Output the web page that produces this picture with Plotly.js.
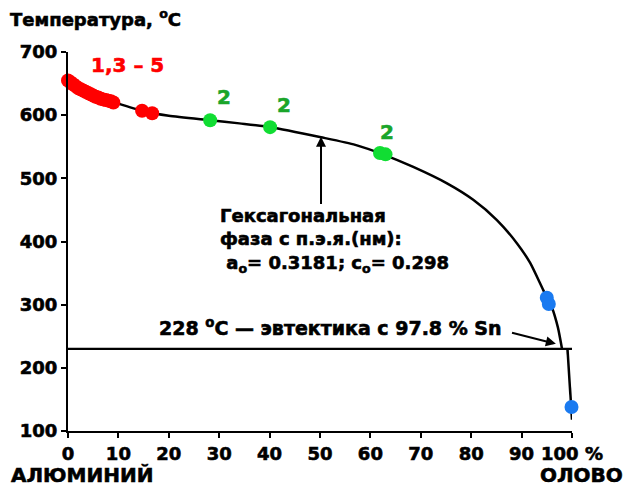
<!DOCTYPE html>
<html>
<head>
<meta charset="utf-8">
<script src="https://cdn.plot.ly/plotly-3.0.1.min.js"></script>
<style>html,body{margin:0;padding:0;background:#fff;}#chart{width:628px;height:491px;}</style>
</head>
<body>
<div id="chart"></div>
<script>
// Liquidus curve (Al–Sn), % Sn vs temperature
var curveX = [0, 2, 5, 9.3, 14.7, 20, 28.2, 34, 40.3, 50.2, 57, 62.5, 68.5, 75.2, 80.4, 85.1, 89.1, 91.7, 94.3, 96.0, 97.2, 98.0];
var curveT = [656, 644, 631, 620, 607, 599, 592, 587, 581, 565, 553, 538, 518, 492, 466, 434, 397, 366, 323, 296, 264, 231];
// Sn-rich branch below the eutectic
var tailX = [99.1, 100];
var tailT = [230, 118];

// Eutectic line
var eutX = [0, 100];
var eutT = [230, 230];

// Experimental points
var redX = [0, 0.5, 1, 1.5, 2, 2.5, 3, 3.5, 4, 4.5, 5, 5.5, 6, 6.5, 7, 7.5, 8, 8.5, 9, 14.7, 16.7];
var redT = [655, 652, 649, 646, 643, 641, 639, 637, 635, 633, 631, 629, 628, 626, 625, 624, 623, 622, 620, 607, 603];
var greenX = [28.2, 40.1, 61.9, 63.0];
var greenT = [592, 581, 540, 538];
var blueX = [95.0, 95.4, 99.9];
var blueT = [311, 301, 138];

var xTicks = [0, 10, 20, 30, 40, 50, 60, 70, 80, 90, 100];
var xTickText = ['0', '10', '20', '30', '40', '50', '60', '70', '80', '90', '100 %'];
var yTicks = [100, 200, 300, 400, 500, 600, 700];

var FONT = 'DejaVu Sans, Liberation Sans, Arial, sans-serif';
var bold = function (size, color) { return {family: FONT, size: size, color: color || '#000', weight: 'bold'}; };

var traces = [
  {x: curveX, y: curveT, mode: 'lines', line: {color: '#000', width: 2.5, shape: 'spline', smoothing: 0.6}, hoverinfo: 'skip'},
  {x: tailX, y: tailT, mode: 'lines', line: {color: '#000', width: 2.5}, hoverinfo: 'skip'},
  {x: eutX, y: eutT, mode: 'lines', line: {color: '#000', width: 2.2}, hoverinfo: 'skip'},
  {x: redX, y: redT, mode: 'markers', marker: {color: '#ff0000', size: 14}, cliponaxis: false},
  {x: greenX, y: greenT, mode: 'markers', marker: {color: '#11dd33', size: 14}, cliponaxis: false},
  {x: blueX, y: blueT, mode: 'markers', marker: {color: '#1a7af0', size: 14}, cliponaxis: false}
];

var ann = [
  {xref: 'paper', yref: 'paper', x: -0.12, y: 1.09, xanchor: 'left', yanchor: 'middle', showarrow: false,
   text: 'Температура, <sup>o</sup>C', font: bold(18)},
  {xref: 'x', yref: 'y', x: 11.9, y: 679, showarrow: false, text: '1,3 – 5', font: bold(20, '#ff0000')},
  {xref: 'x', yref: 'y', x: 31, y: 628, showarrow: false, text: '2', font: bold(20, '#1aa52a')},
  {xref: 'x', yref: 'y', x: 42.9, y: 616, showarrow: false, text: '2', font: bold(20, '#1aa52a')},
  {xref: 'x', yref: 'y', x: 63.3, y: 574, showarrow: false, text: '2', font: bold(20, '#1aa52a')},
  {xref: 'x', yref: 'y', x: 106.3, y: 308, showarrow: false, text: '6', font: bold(20, '#1a7af0')},
  {xref: 'x', yref: 'y', x: 104.4, y: 136, showarrow: false, text: '6', font: bold(20, '#1a7af0')},
  {xref: 'x', yref: 'y', x: 29.8, y: 402, xanchor: 'left', yanchor: 'middle', showarrow: false, align: 'left',
   text: 'Гексагональная<br>фаза с п.э.я.(нм):<br> a<sub>o</sub>= 0.3181; c<sub>o</sub>= 0.298', font: bold(18)},
  {xref: 'x', yref: 'y', x: 17.6, y: 264, xanchor: 'left', yanchor: 'middle', showarrow: false,
   text: '228 <sup>o</sup>C — эвтектика с 97.8 % Sn', font: bold(19)},
  {xref: 'x', yref: 'y', x: 50.2, y: 566, ax: 50.2, ay: 457, axref: 'x', ayref: 'y', text: '',
   showarrow: true, arrowhead: 2, arrowsize: 1, arrowwidth: 2, arrowcolor: '#000'},
  {xref: 'x', yref: 'y', x: 96.8, y: 238, ax: 87.8, ay: 256, axref: 'x', ayref: 'y', text: '',
   showarrow: true, arrowhead: 2, arrowsize: 1, arrowwidth: 2, arrowcolor: '#000'},
  {xref: 'paper', yref: 'paper', x: -0.117, y: -0.116, xanchor: 'left', yanchor: 'middle', showarrow: false,
   text: 'АЛЮМИНИЙ', font: bold(20)},
  {xref: 'paper', yref: 'paper', x: 1.105, y: -0.116, xanchor: 'right', yanchor: 'middle', showarrow: false,
   text: 'ОЛОВО', font: bold(20)}
];

var layout = {
  width: 628, height: 491,
  margin: {l: 68, r: 56, t: 52, b: 60},
  paper_bgcolor: '#fff', plot_bgcolor: '#fff',
  showlegend: false,
  xaxis: {range: [0, 100], tickvals: xTicks, ticktext: xTickText, showgrid: false, zeroline: false,
          showline: true, linecolor: '#000', linewidth: 2, ticks: 'outside', ticklen: 5, tickwidth: 2, tickcolor: '#000',
          tickfont: bold(18), fixedrange: true},
  yaxis: {range: [100, 700], tickvals: yTicks, showgrid: false, zeroline: false,
          showline: true, linecolor: '#000', linewidth: 2, ticks: 'outside', ticklen: 5, tickwidth: 2, tickcolor: '#000',
          tickfont: bold(18), fixedrange: true},
  annotations: ann
};

Plotly.newPlot('chart', traces, layout, {displayModeBar: false, staticPlot: true}).then(function () {
  // make the text heavier, like the reference's black-weight typeface
  document.querySelectorAll('#chart svg text').forEach(function (t) {
    var f = t.style.fill || window.getComputedStyle(t).fill;
    t.style.stroke = f;
    t.style.strokeWidth = '0.6px';
  });
});
</script>
</body>
</html>
